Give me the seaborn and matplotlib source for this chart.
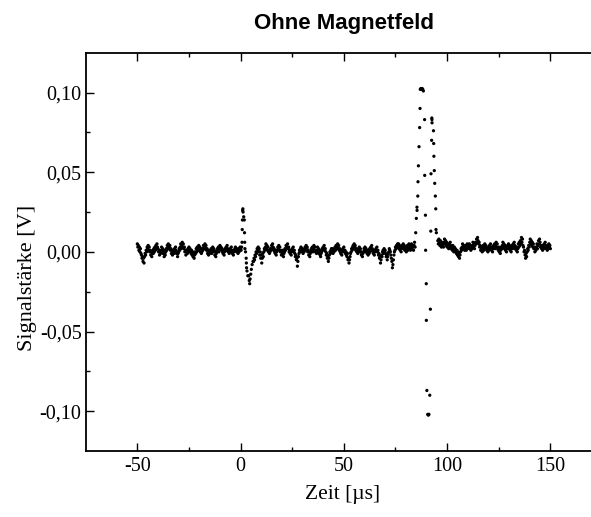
import numpy as np
import pandas as pd
import matplotlib
matplotlib.use("Agg")
import matplotlib.pyplot as plt
from matplotlib.ticker import FixedLocator
import seaborn as sns

# Oscilloscope trace without magnetic field, values in mV
# baseline before the trigger pulse, 0.25 us sampling from -50 us
pre_start = -50.0
pre_mv = [5, 3, 4, 1, 3, 0, 2, -1, -2, -4, -3, -6, -4, -7, -3, -1, -2, 1, 0, 3,
          2, 4, 1, 3, 0, 1, -2, 0, -3, -1, 1, -1, 2, 0, 3, 1, 4, 2, 5, 3,
          2, 0, 1, -2, 0, -1, 1, 3, 0, 2, -1, 1, -3, -1, -2, 0, 2, 1, 4, 2,
          5, 3, 2, 4, 1, 2, -1, 1, -2, 0, 1, -1, 2, 0, 3, 1, -1, 0, -3, -1,
          0, 2, 1, 3, 5, 2, 4, 6, 3, 5, 2, 3, 0, 1, -2, 0, 1, -1, 2, 0,
          3, 1, 2, 0, -1, 1, -2, 0, -3, -1, -4, -2, 0, -1, 2, 0, 3, 1, 2, 4,
          1, 3, 0, 2, -1, 0, 2, 1, 4, 2, 3, 5, 2, 4, 1, 2, -1, 1, -2, 0,
          -1, 1, 0, 2, -1, 1, 3, 0, 2, 1, -2, 0, -3, -1, 0, 2, 1, 3, 0, 2,
          4, 2, 3, 1, 2, 0, -1, 1, -2, 0, 2, 1, 3, 1, 4, 2, 0, 1, -1, 1,
          2, 0, 3, 1, -1, 0, -2, 1, 0, 2, 3, 1, 2, 0, 1, -1, 2, 0, 1, 3,
          2]

# trigger pulse near t = 0
pulse_t = [0.25, 0.5, 0.7, 0.8, 0.9, 1.0, 1.1, 1.2, 1.5, 1.8, 1.9, 2.0, 2.1,
           2.4, 2.7, 2.8, 2.9, 3.1, 3.5, 3.9, 4.2, 4.4, 4.6, 4.9, 5.2, 5.6, 6.0]
pulse_mv = [1, 3, 6, 14, 20, 26, 27, 25, 22, 20, 12, 6, 2,
            0, -4, -7, -10, -12, -15, -15, -18, -20, -17, -14, -11, -8, -6]

# baseline between pulse and echo, 0.25 us sampling from 6.25 us
mid_start = 6.25
mid_mv = [-6, -4, -5, -2, -3, 0, -1, 2, 1, 3, 0, 2, -2, 0, -4, -2, -7, -4, -1, -3,
          0, 2, 1, 3, 5, 2, 4, 1, 3, 0, 1, -1, 0, 2, 1, 4, 2, 5, 3, 1,
          2, 0, -1, 1, -2, 0, 1, 3, 2, 4, 1, 3, 0, 1, -2, 0, -1, 1, -3, -1,
          0, 2, 1, 4, 2, 3, 5, 2, 3, 0, 1, -1, 1, -2, 0, 2, 1, 3, 0, 1,
          -1, -3, -2, -5, -4, -9, -6, -3, -1, 1, 0, 2, 3, 1, 2, 0, -1, 1, 0, 2,
          3, 1, 4, 2, 3, 0, 1, -2, 0, -3, -1, 0, 2, 1, 3, 0, 2, 4, 1, 3,
          0, 1, -1, 1, 3, 0, 2, -1, 1, -2, -3, -1, 0, 2, 1, 3, 2, 4, 1, 2,
          0, -2, -1, -4, -3, -6, -4, -2, 0, -1, 1, 2, 0, 2, -1, 1, 0, 2, 3, 1,
          4, 2, 3, 5, 2, 4, 1, 2, 0, -1, 1, -2, 0, 2, 1, 3, 0, 1, -1, 0,
          -2, -3, -1, -5, -4, -7, -5, -3, -1, 0, 2, 1, 3, 4, 2, 5, 3, 4, 1, 2,
          0, 1, -1, 2, 0, 3, 1, 2, 0, -2, -1, -3, -1, 0, 2, 1, 3, 0, 2, 1,
          -1, 0, -2, 1, -1, 2, 0, 3, 1, 4, 2, 1, -1, 0, -2, 1, 0, 2, 1, 3,
          0, 1, -2, -1, -4, -3, -7, -5, -2, -3, 0, 1, -1, 2, 0, 1, -1, -3, -2, -5,
          -3, -1, 0, 2, 1, 0, -2, -4, -6, -10, -8, -5, -2, 0, 1, 3, 2, 4, 3, 5,
          3, 5, 2, 4, 1, 3, 0, 2, 4, 3, 5, 2, 4, 1, 3, 2, 0, 2, 4, 1,
          3, 5, 2, 4, 1, 3, 5, 2, 4, 3, 1, 4, 6, 3]

# echo signal, saturating at about +/-102 mV
echo_t = [84.8, 85.1, 85.4, 85.45, 85.8, 85.9, 86.1, 86.4, 86.7, 86.9,
          87.0, 87.3, 87.6, 87.9, 88.2, 88.5,
          89.1, 89.15, 89.5, 89.6, 89.9, 89.95, 90.2, 90.6, 90.9, 91.2,
          91.6, 91.9, 92.1, 92.2, 92.5, 92.6, 92.65, 92.7, 93.4, 93.5,
          93.6, 93.8, 94.0, 94.3, 94.5, 94.6, 94.8]
echo_mv = [12, 21, 28, 26, 35, 44, 54, 66, 78, 90,
           102, 102.5, 102, 102.5, 102, 101,
           83, 48, 23, 1, -20, -43, -87, -102, -102.5, -102,
           -90, -36, 13, 49, 70, 84, 83, 81, 76, 68,
           60, 51, 43, 35, 27, 14, 12]

# baseline after the echo, 0.25 us sampling from 95.5 us
post_start = 95.5
post_mv = [7, 5, 8, 6, 4, 7, 5, 3, 6, 4, 5, 3, 6, 8, 5, 7, 4, 6, 3, 5,
           4, 2, 5, 3, 6, 4, 2, 3, 1, 4, 2, 0, 3, 1, 2, 0, -1, 1, -2, 0,
           -3, -1, -4, -2, 0, 2, 1, 3, 5, 2, 4, 3, 1, 2, 4, 1, 3, 5, 2, 4,
           3, 5, 2, 4, 1, 3, 2, 4, 6, 3, 5, 2, 4, 6, 5, 8, 6, 9, 7, 5,
           6, 3, 4, 1, 3, 2, 0, 2, 4, 1, 3, 5, 2, 4, 3, 1, 2, 0, 3, 1,
           4, 2, 5, 3, 1, 3, 0, 2, 4, 3, 5, 2, 4, 6, 3, 5, 2, 1, 3, 0,
           2, -1, 1, 3, 2, 4, 6, 3, 5, 2, 4, 1, 3, 0, 2, 4, 3, 5, 2, 4,
           1, 3, 0, 2, 4, 2, 5, 3, 6, 4, 2, 3, 1, 3, 0, 2, 5, 3, 6, 4,
           7, 5, 9, 6, 8, 4, 3, 0, 1, -2, -4, -1, -3, 0, 2, 1, 4, 3, 6, 8,
           5, 7, 4, 6, 3, 5, 2, 3, 0, 2, 1, 3, 5, 2, 4, 7, 5, 8, 6, 3,
           4, 2, 3, 1, 4, 2, 5, 3, 6, 4, 2, 3, 1, 4, 2, 5, 3, 4, 2]

x_ticks = [-50, 0, 50, 100, 150]
x_tick_labels = ["-50", "0", "50", "100", "150"]
y_ticks = [-0.10, -0.05, 0.0, 0.05, 0.10]
y_tick_labels = ["-0,10", "-0,05", "0,00", "0,05", "0,10"]


def sampled(start, values, step=0.25):
    return start + step * np.arange(len(values)), np.asarray(values, float)


parts = [sampled(pre_start, pre_mv),
         (np.asarray(pulse_t), np.asarray(pulse_mv, float)),
         sampled(mid_start, mid_mv),
         (np.asarray(echo_t), np.asarray(echo_mv, float)),
         sampled(post_start, post_mv)]
df = pd.DataFrame({
    "Zeit": np.concatenate([p[0] for p in parts]),
    "Signal": np.concatenate([p[1] for p in parts]) / 1000.0,
})

sns.set_theme(style="ticks")
plt.rcParams["font.family"] = ["Liberation Serif", "DejaVu Serif"]
plt.rcParams["text.color"] = "black"
plt.rcParams["axes.labelcolor"] = "black"

W, H = 591, 517
fig = plt.figure(figsize=(W / 100, H / 100), dpi=100)
left, right, top, bottom = 85.7, 602.0, 52.7, 451.0
ax = fig.add_axes([left / W, (H - bottom) / H, (right - left) / W, (bottom - top) / H])

sns.scatterplot(data=df, x="Zeit", y="Signal", ax=ax, color="black",
                s=5.5, linewidth=0, edgecolor="none", legend=False)

ax.set_xlim(-75, 175)
ax.set_ylim(-0.125, 0.125)
ax.set_xticks(x_ticks)
ax.set_xticklabels(x_tick_labels)
ax.set_yticks(y_ticks)
ax.set_yticklabels(y_tick_labels)
ax.xaxis.set_minor_locator(FixedLocator([-25, 25, 75, 125]))
ax.yaxis.set_minor_locator(FixedLocator([-0.075, -0.025, 0.025, 0.075]))
ax.tick_params(which="both", direction="in", top=True, right=True,
               width=1.0, colors="black", labelsize=14.5)
ax.tick_params(which="major", length=5.5)
ax.tick_params(which="minor", length=3)
ax.tick_params(axis="x", pad=4)
ax.tick_params(axis="y", pad=3)
for sp in ax.spines.values():
    sp.set_linewidth(1.3)
    sp.set_color("black")

ax.set_xlabel("Zeit [µs]", fontsize=15.5, color="black")
ax.set_ylabel("Signalstärke [V]", fontsize=16, color="black")
ax.xaxis.set_label_coords(0.498, -0.086)
ax.yaxis.set_label_coords(-0.094, 0.434)

fig.text(343.5 / W, 1 - 28.5 / H, "Ohne Magnetfeld", ha="center", va="baseline",
         fontsize=16, fontweight="bold", color="black",
         family=["Liberation Sans", "DejaVu Sans"])

fig.savefig("out.png", dpi=100, facecolor="white")
